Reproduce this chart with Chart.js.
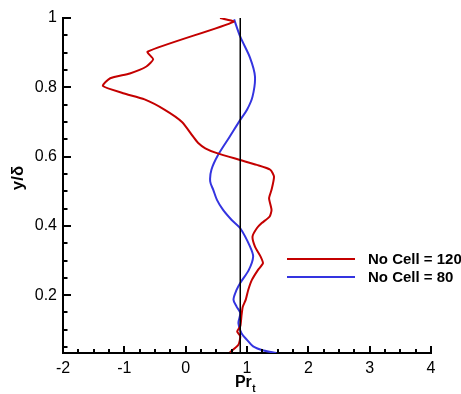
<!doctype html>
<html lang="en">
  <head>
    <meta charset="utf-8">
    <title>Pr_t profile</title>
    <script src="https://cdn.jsdelivr.net/npm/chart.js"></script>
    <style>
      html, body { margin: 0; padding: 0; background: #fff; }
      #prChart { display: block; }
    </style>
  </head>
  <body>
    <canvas id="prChart" width="461" height="394"></canvas>
    <script>
      // values
      const xTickVals = [-2, -1, 0, 1, 2, 3, 4];
      const xTickLabels = ['-2', '-1', '0', '1', '2', '3', '4'];
      const yTickVals = [0.2, 0.4, 0.6, 0.8, 1];
      const yTickLabels = ['0.2', '0.4', '0.6', '0.8', '1'];

      const seriesNames = ['No Cell = 120', 'No Cell = 80'];

      const redY = [0.035, 0.057, 0.081, 0.095, 0.110, 0.140, 0.166, 0.187, 0.215, 0.244, 0.273, 0.292, 0.312, 0.340, 0.369, 0.393, 0.408, 0.427, 0.446, 0.480, 0.504, 0.542, 0.562, 0.576, 0.590, 0.610, 0.624, 0.640, 0.658, 0.700, 0.735, 0.765, 0.783, 0.804, 0.826, 0.840, 0.860, 0.881, 0.903, 0.989, 1.000];
      const redPr = [0.72, 0.86, 0.89, 0.84, 0.89, 0.91, 0.93, 0.98, 1.02, 1.08, 1.18, 1.26, 1.22, 1.13, 1.09, 1.16, 1.24, 1.37, 1.40, 1.36, 1.40, 1.44, 1.38, 1.16, 0.89, 0.51, 0.32, 0.20, 0.12, -0.06, -0.34, -0.67, -1.02, -1.35, -1.23, -0.91, -0.64, -0.53, -0.62, 0.78, 0.56];

      const blueY = [0.033, 0.040, 0.052, 0.071, 0.090, 0.119, 0.148, 0.167, 0.187, 0.215, 0.235, 0.273, 0.311, 0.340, 0.393, 0.417, 0.446, 0.475, 0.504, 0.528, 0.562, 0.605, 0.658, 0.706, 0.735, 0.773, 0.831, 0.885, 0.946, 0.996];
      const bluePr = [1.48, 1.27, 1.10, 1.00, 0.91, 0.86, 0.89, 0.83, 0.78, 0.83, 0.89, 1.03, 1.10, 1.05, 0.89, 0.75, 0.61, 0.51, 0.45, 0.40, 0.42, 0.53, 0.72, 0.89, 1.00, 1.09, 1.13, 1.05, 0.89, 0.79];

      const refPr = 0.89;
      const refY = [0.033, 1.0];

      const FONT = "'Liberation Sans', Arial, Helvetica, sans-serif";
      const RED = '#c40000';
      const BLUE = '#3434e0';

      const pts = (xs, ys) => xs.map((x, i) => ({ x: x, y: ys[i] }));

      // inward ticks, major + minor, like the original plot
      const innerTicks = {
        id: 'innerTicks',
        afterDatasetsDraw(chart) {
          const { ctx, chartArea: a, scales: { x, y } } = chart;
          ctx.save();
          ctx.strokeStyle = '#000';
          ctx.lineWidth = 2;
          ctx.beginPath();
          for (let i = 0; i <= 24; i++) {
            const px = Math.round(x.getPixelForValue(-2 + i * 0.25));
            const len = i % 4 === 0 ? 7 : 4;
            ctx.moveTo(px, a.bottom);
            ctx.lineTo(px, a.bottom - len);
          }
          for (let i = 1; i <= 20; i++) {
            const v = i * 0.05;
            if (v < y.min) continue;
            const py = Math.round(y.getPixelForValue(v));
            const len = i % 4 === 0 ? 8 : 4.5;
            ctx.moveTo(a.left, py);
            ctx.lineTo(a.left + len, py);
          }
          ctx.stroke();
          ctx.restore();
        }
      };

      // legend inside the plot + axis titles
      const extras = {
        id: 'extras',
        afterDraw(chart) {
          const { ctx } = chart;
          ctx.save();
          const colors = [RED, BLUE];
          const rows = [259, 277];
          ctx.lineWidth = 2;
          ctx.font = 'bold 15px ' + FONT;
          ctx.textBaseline = 'middle';
          ctx.fillStyle = '#000';
          seriesNames.forEach((name, i) => {
            ctx.strokeStyle = colors[i];
            ctx.beginPath();
            ctx.moveTo(287, rows[i]);
            ctx.lineTo(355, rows[i]);
            ctx.stroke();
            ctx.fillText(name, 368, rows[i] + 1);
          });

          // x title: Pr with subscript t
          ctx.textBaseline = 'alphabetic';
          ctx.font = 'bold 16px ' + FONT;
          const wPr = ctx.measureText('Pr').width;
          ctx.font = 'bold 10px ' + FONT;
          const wT = ctx.measureText('t').width;
          const x0 = 245 - (wPr + wT) / 2;
          ctx.font = 'bold 16px ' + FONT;
          ctx.fillText('Pr', x0, 387);
          ctx.font = 'bold 10px ' + FONT;
          ctx.fillText('t', x0 + wPr + 0.5, 392);

          // y title
          ctx.translate(18, 178);
          ctx.rotate(-Math.PI / 2);
          ctx.textAlign = 'center';
          ctx.textBaseline = 'middle';
          ctx.font = 'bold 17px ' + FONT;
          ctx.fillText('y/δ', 0, 0);
          ctx.restore();
        }
      };

      new Chart(document.getElementById('prChart'), {
        type: 'scatter',
        data: {
          datasets: [
            { label: 'Pr_t', data: pts([refPr, refPr], refY), showLine: true, borderColor: '#000', borderWidth: 1.5, pointRadius: 0 },
            { label: seriesNames[0], data: pts(redPr, redY), showLine: true, borderColor: RED, borderWidth: 2, pointRadius: 0, tension: 0.2 },
            { label: seriesNames[1], data: pts(bluePr, blueY), showLine: true, borderColor: BLUE, borderWidth: 2, pointRadius: 0, tension: 0.3 }
          ]
        },
        options: {
          responsive: false,
          animation: false,
          layout: { padding: { top: 18, right: 30, left: 0, bottom: 0 } },
          plugins: { legend: { display: false }, tooltip: { enabled: false } },
          scales: {
            x: {
              type: 'linear', min: -2, max: 4,
              afterBuildTicks: s => { s.ticks = xTickVals.map(v => ({ value: v })); },
              afterFit: s => { s.height = 41; },
              ticks: { color: '#000', font: { family: FONT, size: 16 }, padding: 6, maxRotation: 0,
                callback: (v, i) => xTickLabels[i] },
              grid: { display: false, drawTicks: false },
              border: { display: true, color: '#000', width: 2 }
            },
            y: {
              type: 'linear', min: 0.033, max: 1,
              afterBuildTicks: s => { s.ticks = yTickVals.map(v => ({ value: v })); },
              afterFit: s => { s.width = 63; },
              ticks: { color: '#000', font: { family: FONT, size: 16 }, padding: 6,
                callback: (v, i) => yTickLabels[i] },
              grid: { display: false, drawTicks: false },
              border: { display: true, color: '#000', width: 2 }
            }
          }
        },
        plugins: [innerTicks, extras]
      });
    </script>
  </body>
</html>
